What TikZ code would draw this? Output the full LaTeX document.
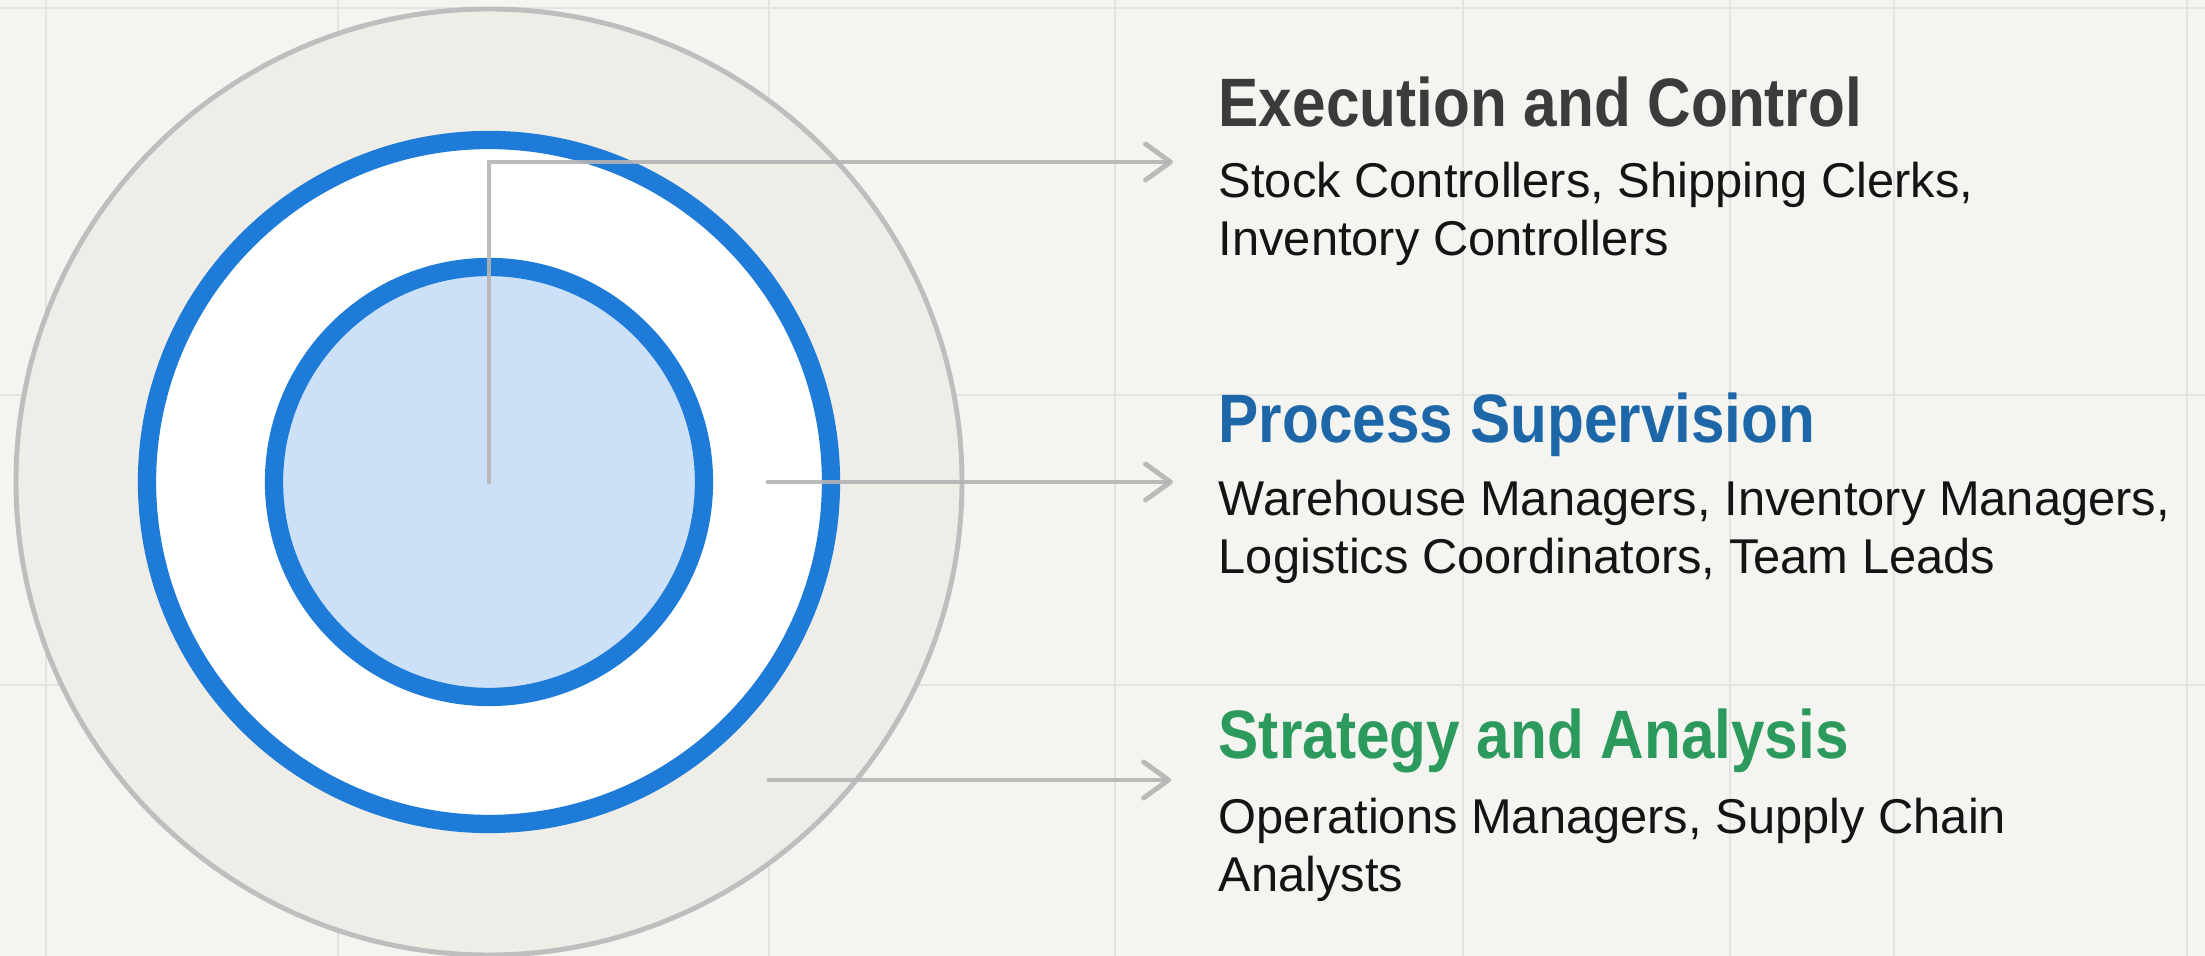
\documentclass[tikz,border=0pt]{standalone}
\usepackage{fontspec}
\setmainfont{Liberation Sans}
\newfontfamily\headfont[FakeStretch=0.88]{Liberation Sans}
\usetikzlibrary{arrows.meta,positioning}
\definecolor{paper}{HTML}{F4F4F0}
\definecolor{gridline}{HTML}{E3E3DF}
\definecolor{outerfill}{HTML}{EFEDE8}
\definecolor{outergray}{HTML}{BEBEBE}
\definecolor{ringblue}{HTML}{1E7BD8}
\definecolor{innerblue}{HTML}{CCE1F7}
\definecolor{linegray}{HTML}{B4B4B4}
\definecolor{execgray}{HTML}{3B3B3B}
\definecolor{procblue}{HTML}{1D67A8}
\definecolor{stratgreen}{HTML}{2B9A5C}
\definecolor{bodyblack}{HTML}{141414}

\begin{document}
\begin{tikzpicture}
%define
\tikzstyle{ring} = [circle, inner sep=0pt, line width=5.2pt, draw=ringblue]
\tikzstyle{heading} = [anchor=base west, inner sep=0pt, font=\headfont\bfseries\fontsize{19.5}{22}\selectfont]
\tikzstyle{body} = [anchor=base west, inner sep=0pt, align=left, text=bodyblack, font=\fontsize{13.9}{16.6}\selectfont]
\tikzstyle{arrow} = [line width=1.4pt, draw=linegray, draw opacity=0.9, line cap=round, -{Straight Barb[length=2.5mm, width=3.6mm, round]}]

% paper and grid
\fill[paper] (0,0) rectangle (22.05,9.56);
\useasboundingbox (0,0) rectangle (22.05,9.56);
\foreach \x in {0.46,3.38,7.69,11.15,14.63,17.30,18.94,21.87}
  \draw[gridline, line width=0.6pt] (\x,0) -- (\x,9.56);
\foreach \y in {9.48,5.61,2.71}
  \draw[gridline, line width=0.6pt] (0,\y) -- (22.05,\y);

% circles
\coordinate (c) at (4.89,4.74);
\node[circle, inner sep=0pt, minimum size=9.46cm, fill=outerfill, draw=outergray, line width=1.4pt] (outer) at (c) {};
\node[ring, minimum size=6.84cm, fill=white] (middle) at (c) {};
\node[ring, minimum size=4.30cm, fill=innerblue] (inner) at (c) {};

% texts (base of a body = its last line)
\node[heading, text=execgray] (exec) at (12.18,8.29) {Execution and Control};
\node[body] (exec_body) at ([yshift=-1.29cm]exec.base west) {Stock Controllers, Shipping Clerks,\\Inventory Controllers};
\node[heading, text=procblue] (proc) at (12.18,5.13) {Process Supervision};
\node[body] (proc_body) at ([yshift=-1.31cm]proc.base west) {Warehouse Managers, Inventory Managers,\\Logistics Coordinators, Team Leads};
\node[heading, text=stratgreen] (strat) at (12.18,1.97) {Strategy and Analysis};
\node[body] (strat_body) at ([yshift=-1.33cm]strat.base west) {Operations Managers, Supply Chain\\Analysts};

% connectors
\coordinate (exec_end) at (11.73,7.94);
\coordinate (proc_start) at (7.68,4.74);
\coordinate (proc_end) at (11.73,4.74);
\coordinate (strat_start) at (7.69,1.76);
\coordinate (strat_end) at (11.71,1.76);
\draw[arrow] (c) |- (exec_end);
\draw[arrow] (proc_start) -- (proc_end);
\draw[arrow] (strat_start) -- (strat_end);

\end{tikzpicture}
\end{document}
